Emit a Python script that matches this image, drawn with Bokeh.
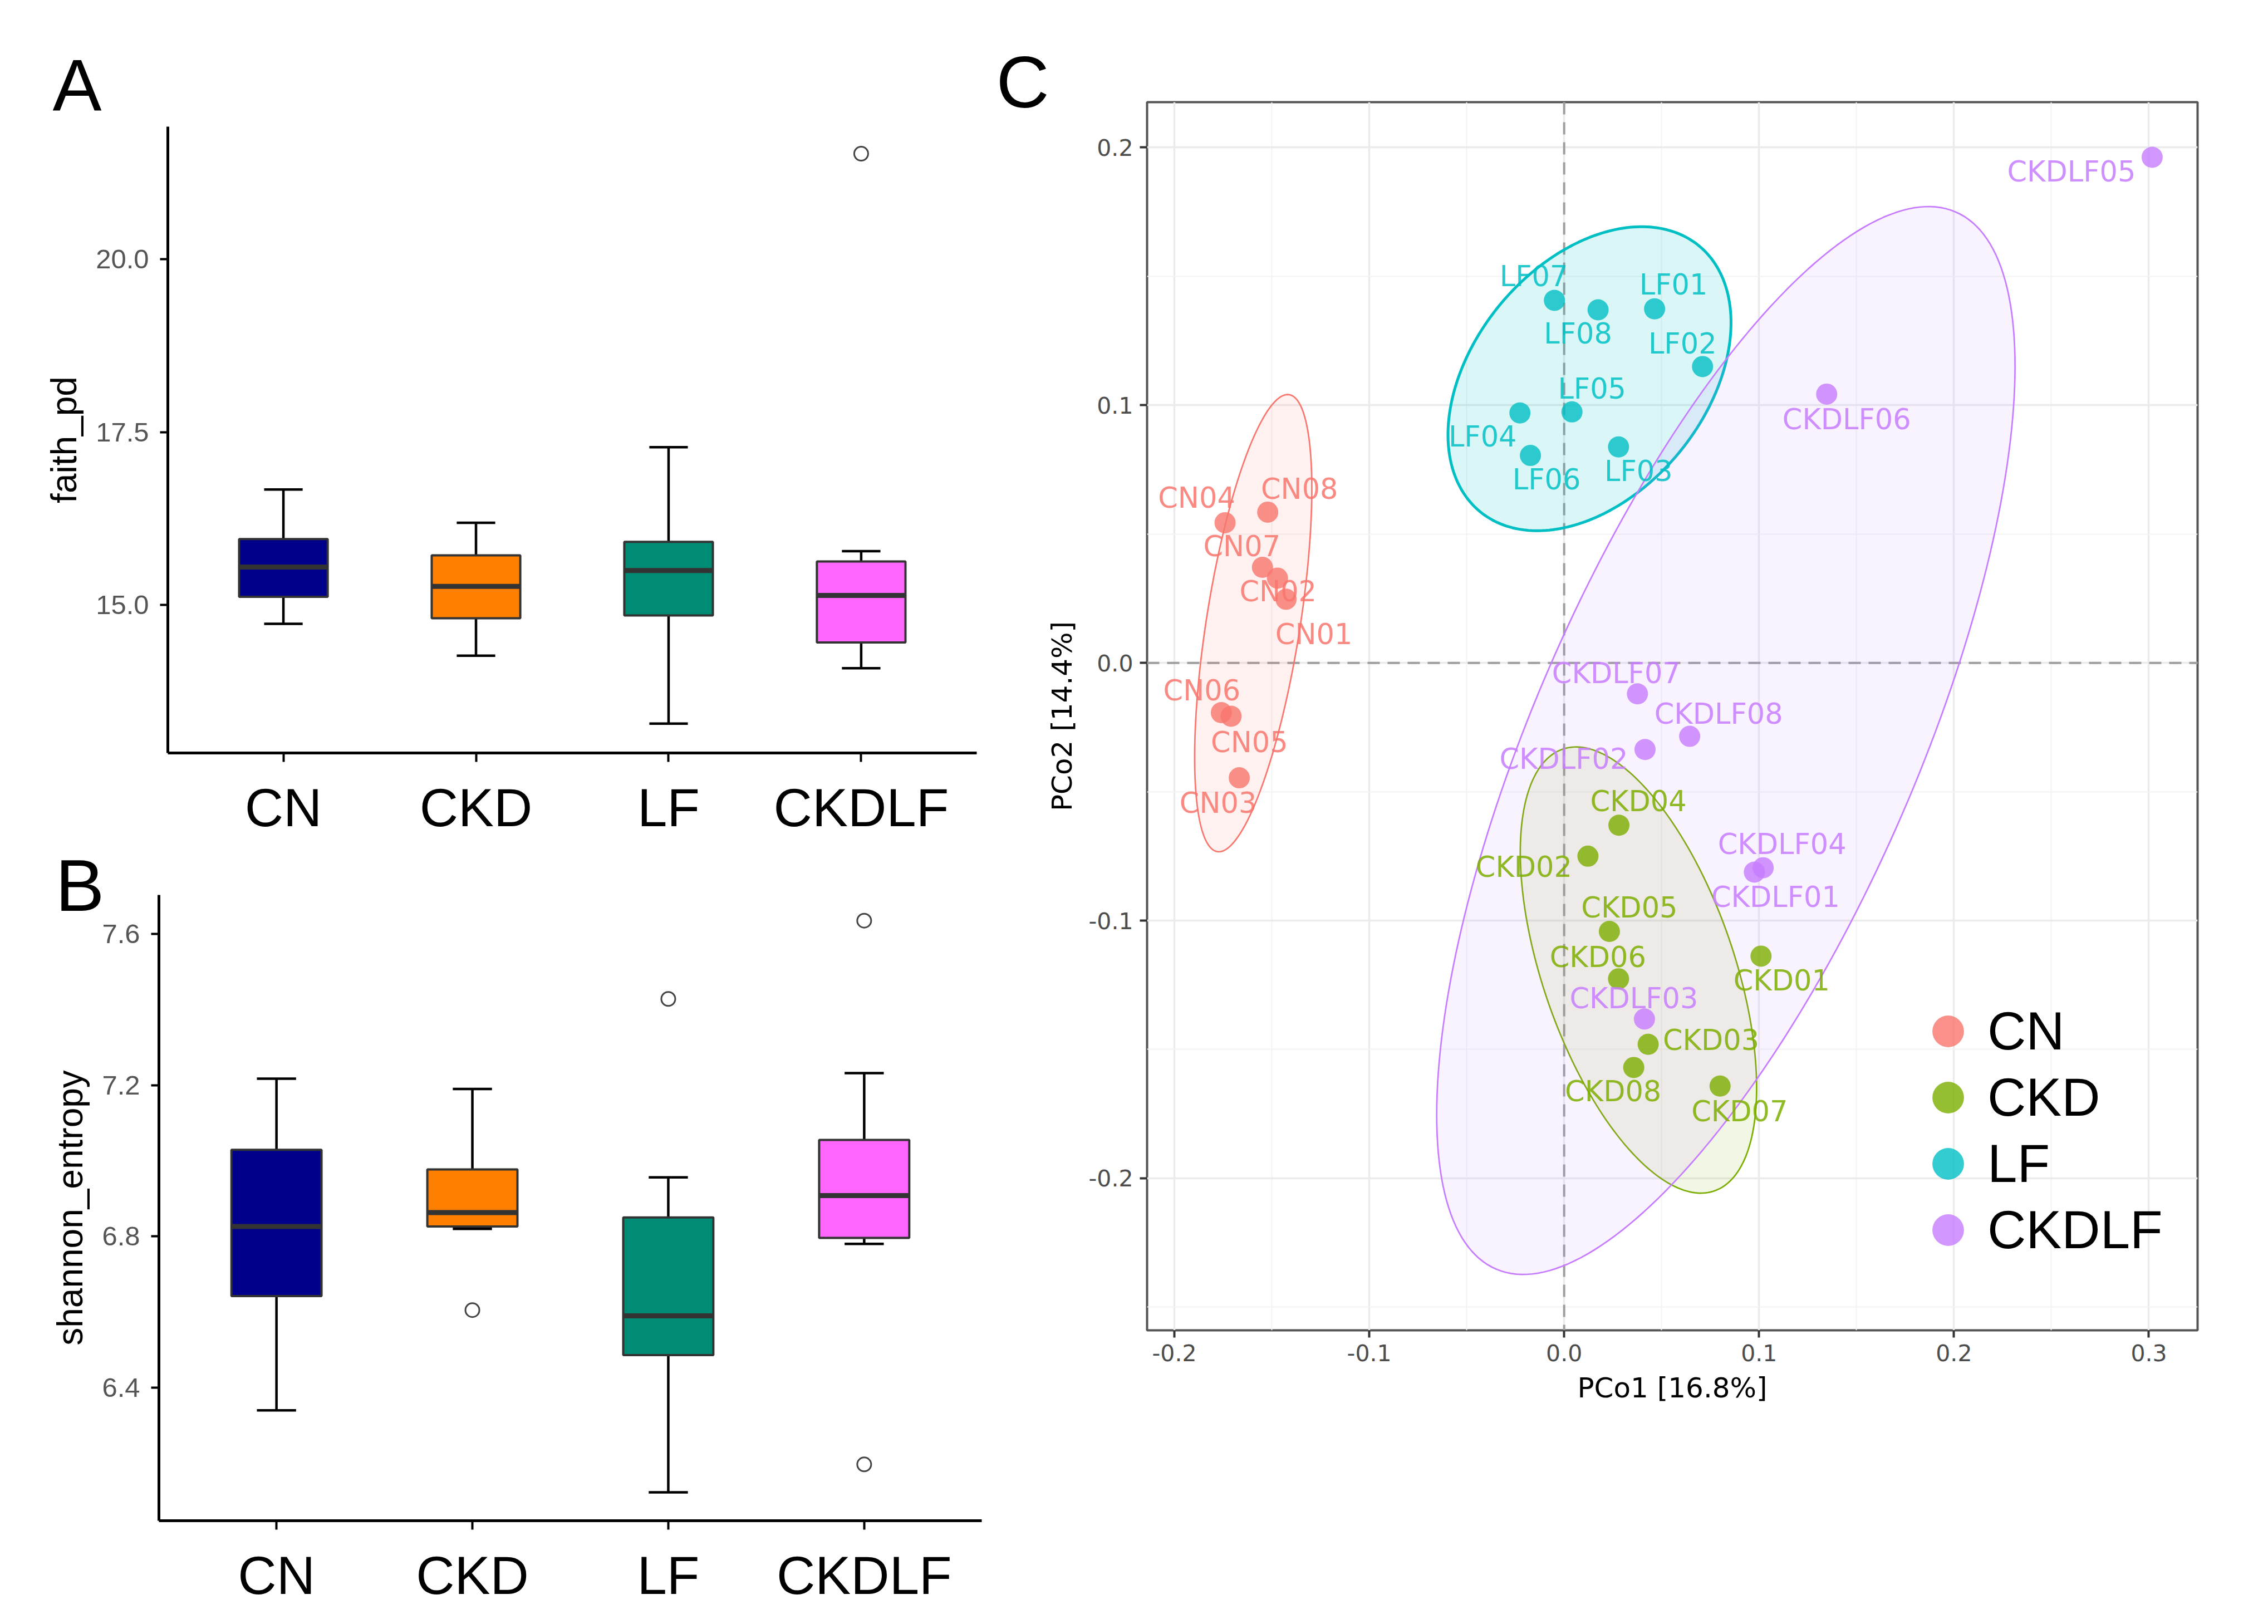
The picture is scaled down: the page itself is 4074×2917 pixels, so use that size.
import numpy as np
from bokeh.plotting import figure
from bokeh.models import (FixedTicker, Span, Legend, LegendItem, Range1d,
                          PrintfTickFormatter)
from bokeh.layouts import row, column
from bokeh.embed import file_html
from bokeh.resources import INLINE
from bokeh.core.properties import value

# ---------------- data ----------------
groups = ["CN", "CKD", "LF", "CKDLF"]
box_colors = ["#00008B", "#FF7F00", "#008B74", "#FF66FF"]
group_colors = ["#F8766D", "#7CAE00", "#00BFC4", "#C77CFF"]

faith_lower = [14.73, 14.27, 13.29, 14.09]
faith_q1 = [15.12, 14.81, 14.85, 14.46]
faith_median = [15.55, 15.27, 15.50, 15.14]
faith_q3 = [15.955, 15.72, 15.915, 15.63]
faith_upper = [16.67, 16.19, 17.28, 15.78]
faith_outlier_group = ["CKDLF"]
faith_outlier_value = [21.52]
faith_ticks = [15.0, 17.5, 20.0]

shannon_lower = [6.34, 6.82, 6.123, 6.78]
shannon_q1 = [6.642, 6.826, 6.486, 6.796]
shannon_median = [6.826, 6.863, 6.59, 6.908]
shannon_q3 = [7.029, 6.977, 6.85, 7.055]
shannon_upper = [7.217, 7.19, 6.956, 7.232]
shannon_outlier_group = ["CKD", "LF", "CKDLF", "CKDLF"]
shannon_outlier_value = [6.605, 7.428, 7.635, 6.197]
shannon_ticks = [6.4, 6.8, 7.2, 7.6]

sample_id = ["CN01", "CN02", "CN03", "CN04", "CN05", "CN06", "CN07", "CN08",
             "CKD01", "CKD02", "CKD03", "CKD04", "CKD05", "CKD06", "CKD07", "CKD08",
             "LF01", "LF02", "LF03", "LF04", "LF05", "LF06", "LF07", "LF08",
             "CKDLF01", "CKDLF02", "CKDLF03", "CKDLF04", "CKDLF05", "CKDLF06", "CKDLF07", "CKDLF08"]
sample_group = ["CN"] * 8 + ["CKD"] * 8 + ["LF"] * 8 + ["CKDLF"] * 8
pco1 = [-0.1427, -0.1471, -0.1667, -0.1740, -0.1709, -0.1759, -0.1548, -0.1521,
        0.1010, 0.0122, 0.0431, 0.0281, 0.0232, 0.0279, 0.0800, 0.0357,
        0.0464, 0.0710, 0.0279, -0.0227, 0.0040, -0.0173, -0.0050, 0.0174,
        0.0976, 0.0415, 0.0412, 0.1021, 0.3017, 0.1347, 0.0376, 0.0644]
pco2 = [0.0247, 0.0329, -0.0446, 0.0544, -0.0207, -0.0193, 0.0371, 0.0585,
        -0.1138, -0.0750, -0.1480, -0.0630, -0.1042, -0.1226, -0.1642, -0.1570,
        0.1374, 0.1150, 0.0838, 0.0970, 0.0974, 0.0805, 0.1407, 0.1370,
        -0.0812, -0.0336, -0.1382, -0.0795, 0.1962, 0.1043, -0.0120, -0.0285]
pco_ticks = [-0.2, -0.1, 0.0, 0.1, 0.2, 0.3]
pco2_ticks = [-0.2, -0.1, 0.0, 0.1, 0.2]
pco1_label = "PCo1 [16.8%]"
pco2_label = "PCo2 [14.4%]"

# label placement (repelled text offsets, screen px: right, down)
label_dx = [50, 1, -38, -51, 33, -35, -37, 57,
            37, -115, 113, 35, 36, -37, 35, -37,
            34, -36, 36, -67, 36, 29, -37, -36,
            38, -146, -19, 34, -145, 36, -38, 52]
label_dy = [63, 24, 45, -44, 47, -40, -37, -41,
            44, 20, -7, -43, -42, -39, 46, 43,
            -43, -41, 44, 43, -41, 43, -43, 43,
            45, 17, -37, -42, 26, 46, -37, -40]

# ---------------- layout constants (px) ----------------
WA, HA, HB = 1782, 1506, 1395
WC, HC = 2276, 2901
FONT_SANS = "Liberation Sans"
FONT_C = "DejaVu Sans"


def set_letter(p, letter, offset, standoff):
    p.title.text = letter
    p.title.align = "left"
    p.title.offset = offset
    p.title.standoff = standoff
    p.title.text_font = FONT_SANS
    p.title.text_font_size = "132px"
    p.title.text_font_style = "normal"
    p.title.text_color = "black"
    p.title.vertical_align = "bottom"


def box_panel(lower, q1, med, q3, upper, og, ov, yr, yticks, ylabel,
              width, height, bl, br, bt, bb):
    p = figure(width=width, height=height, x_range=Range1d(0.4, 4.6),
               y_range=Range1d(*yr), output_backend="svg", toolbar_location=None,
               min_border_left=bl, min_border_right=br, min_border_top=bt,
               min_border_bottom=bb)
    p.outline_line_color = None
    p.xgrid.visible = False
    p.ygrid.visible = False
    xs = [groups.index(g) + 1 for g in groups]
    # whiskers
    p.segment(xs, lower, xs, upper, line_color="black", line_width=4.5)
    p.segment([x - 0.1 for x in xs], upper, [x + 0.1 for x in xs], upper,
              line_color="black", line_width=4.5)
    p.segment([x - 0.1 for x in xs], lower, [x + 0.1 for x in xs], lower,
              line_color="black", line_width=4.5)
    # boxes
    p.vbar(x=xs, width=0.46, bottom=q1, top=q3, fill_color=box_colors,
           line_color="#333333", line_width=4)
    p.segment([x - 0.23 for x in xs], med, [x + 0.23 for x in xs], med,
              line_color="#333333", line_width=9)
    ox = [groups.index(g) + 1 for g in og]
    p.scatter(ox, ov, marker="circle", size=25, fill_color=None,
              line_color="#444444", line_width=3)

    p.xaxis.ticker = FixedTicker(ticks=xs)
    p.xaxis.major_label_overrides = {x: g for x, g in zip(xs, groups)}
    p.yaxis.ticker = FixedTicker(ticks=yticks)
    p.yaxis.formatter = PrintfTickFormatter(format="%.1f")
    for ax in (p.xaxis, p.yaxis):
        ax.axis_line_color = "black"
        ax.axis_line_width = 5
        ax.major_tick_line_color = "black"
        ax.major_tick_line_width = 4
        ax.major_tick_in = 0
        ax.minor_tick_line_color = None
    p.xaxis.major_tick_out = 16
    p.yaxis.major_tick_out = 14
    p.xaxis.major_label_text_font = FONT_SANS
    p.xaxis.major_label_text_font_size = "96px"
    p.xaxis.major_label_text_color = "black"
    p.xaxis.major_label_standoff = 28
    p.yaxis.major_label_text_font = FONT_SANS
    p.yaxis.major_label_text_font_size = "49px"
    p.yaxis.major_label_text_color = "#555555"
    p.yaxis.major_label_standoff = 20
    p.yaxis.axis_label = ylabel
    p.yaxis.axis_label_text_font = FONT_SANS
    p.yaxis.axis_label_text_font_size = "64px"
    p.yaxis.axis_label_text_font_style = "normal"
    p.yaxis.axis_label_text_color = "black"
    p.yaxis.axis_label_standoff = 18
    return p


# panel A: frame x 301..1754, y 227..1354
pa = box_panel(faith_lower, faith_q1, faith_median, faith_q3, faith_upper,
               faith_outlier_group, faith_outlier_value, (12.865, 21.91),
               faith_ticks, "faith_pd", WA, HA, 301, 28, 227, HA - 227 - 1127)
set_letter(pa, "A", -207, 2)
# panel B: frame x 285..1763, y 1607..2731 (canvas starts at HA)
pb = box_panel(shannon_lower, shannon_q1, shannon_median, shannon_q3, shannon_upper,
               shannon_outlier_group, shannon_outlier_value, (6.048, 7.703),
               shannon_ticks, "shannon_entropy", WA, HB, 285, 19, 1607 - HA,
               HB - (1607 - HA) - 1124)
set_letter(pb, "B", -186, -112)

# ---------------- panel C ----------------
XR = (-0.214, 0.325)
YR = (-0.259, 0.2176)
CL, CR, CT, CB = 278, 111, 183, 512
cfw = WC - CL - CR
cfh = HC - CT - CB
ppx = cfw / (XR[1] - XR[0])
ppy = cfh / (YR[1] - YR[0])

pc = figure(width=WC, height=HC, x_range=Range1d(*XR), y_range=Range1d(*YR),
            output_backend="svg", toolbar_location=None,
            min_border_left=CL, min_border_right=CR, min_border_top=CT,
            min_border_bottom=CB)
set_letter(pc, "C", -271, -74)
pc.outline_line_color = "#555555"
pc.outline_line_width = 4
pc.xaxis.ticker = FixedTicker(ticks=pco_ticks, minor_ticks=[-0.15, -0.05, 0.05, 0.15, 0.25])
pc.yaxis.ticker = FixedTicker(ticks=pco2_ticks, minor_ticks=[-0.25, -0.15, -0.05, 0.05, 0.15])
for ax in (pc.xaxis, pc.yaxis):
    ax.formatter = PrintfTickFormatter(format="%.1f")
    ax.axis_line_color = None
    ax.major_tick_line_color = "#333333"
    ax.major_tick_line_width = 4
    ax.major_tick_in = 0
    ax.major_tick_out = 13
    ax.minor_tick_line_color = None
    ax.major_label_text_font = FONT_C
    ax.major_label_text_font_size = "41px"
    ax.major_label_text_color = "#4D4D4D"
    ax.major_label_standoff = 12
    ax.axis_label_text_font = FONT_C
    ax.axis_label_text_font_size = "50px"
    ax.axis_label_text_font_style = "normal"
    ax.axis_label_text_color = "black"
    ax.axis_label_standoff = 16
pc.xaxis.axis_label = pco1_label
pc.yaxis.axis_label = pco2_label
for g in (pc.xgrid, pc.ygrid):
    g.grid_line_color = "#EBEBEB"
    g.grid_line_width = 3.5
    g.minor_grid_line_color = "#F3F3F3"
    g.minor_grid_line_width = 2

pc.add_layout(Span(location=0, dimension="height", line_color="#9E9E9E",
                   line_width=4, line_dash="22 14", level="underlay"))
pc.add_layout(Span(location=0, dimension="width", line_color="#9E9E9E",
                   line_width=4, line_dash="22 14", level="underlay"))


def cov_trob(X, nu=5, maxit=25, tol=0.01):
    n, p = X.shape
    wt = np.ones(n)
    loc = X.mean(axis=0)
    w = np.sqrt(wt)
    Xc = X - loc
    for _ in range(maxit):
        w0 = w
        Xc = X - loc
        _, d, vt = np.linalg.svd(np.sqrt(w / w.sum())[:, None] * Xc, full_matrices=False)
        wX = (Xc @ vt.T) / d
        Q = (wX ** 2).sum(axis=1)
        w = (wt * (nu + p)) / (nu + Q)
        loc = (w[:, None] * X).sum(axis=0) / w.sum()
        if np.all(np.abs(w - w0) < tol):
            break
    sw = np.sqrt(w)[:, None] * Xc
    return loc, (sw.T @ sw) / wt.sum()


def ellipse(X, level=0.9, segments=240):
    loc, cov = cov_trob(X)
    dfd = X.shape[0] - 1
    fq = (dfd / 2.0) * ((1 - level) ** (-2.0 / dfd) - 1)
    radius = np.sqrt(2 * fq)
    L = np.linalg.cholesky(cov)
    t = np.linspace(0, 2 * np.pi, segments + 1)
    circ = np.column_stack([np.cos(t), np.sin(t)])
    pts = loc + radius * (circ @ L.T)
    return pts[:, 0], pts[:, 1]


x_all = np.array(pco1)
y_all = np.array(pco2)
grp = np.array(sample_group)

for g, col in zip(groups, group_colors):
    m = grp == g
    ex, ey = ellipse(np.column_stack([x_all[m], y_all[m]]))
    pc.patch(ex, ey, fill_color=col, fill_alpha=0.14 if g == "LF" else 0.1,
             line_color=col, line_width=5 if g == "LF" else 2.7)

point_renderers = []
for g, col in zip(groups, group_colors):
    m = grp == g
    r = pc.scatter(x_all[m], y_all[m], marker="circle", size=38, fill_color=col,
                   fill_alpha=0.8, line_color=None)
    point_renderers.append(r)

lx = x_all + np.array(label_dx) / ppx
ly = y_all - np.array(label_dy) / ppy
text_colors = [group_colors[groups.index(g)] for g in sample_group]
pc.text(x=lx, y=ly, text=sample_id, text_color=text_colors, text_alpha=0.85,
        text_font=value(FONT_C), text_font_size="51px", text_align="center",
        text_baseline="middle")

# legend: one key per row, rows 119 px apart, keys 142 px boxes
LEG_X, LEG_Y0, LEG_STEP = 1368, 109, 119
n_g = len(groups)
for i, (g, r) in enumerate(zip(groups, point_renderers)):
    leg = Legend(items=[LegendItem(label=g, renderers=[r])],
                 location=(LEG_X, LEG_Y0 + (n_g - 1 - i) * LEG_STEP),
                 glyph_width=142, glyph_height=142, label_standoff=0,
                 padding=0, margin=0, border_line_color=None,
                 background_fill_color=None, label_text_font=FONT_SANS,
                 label_text_font_size="96px", label_text_color="black")
    pc.add_layout(leg)

# wrap each boxplot in its own row so their frames keep their own borders
layout = row(column(row(pa), row(pb)), pc)
open("out.html", "w").write(file_html(layout, INLINE))
